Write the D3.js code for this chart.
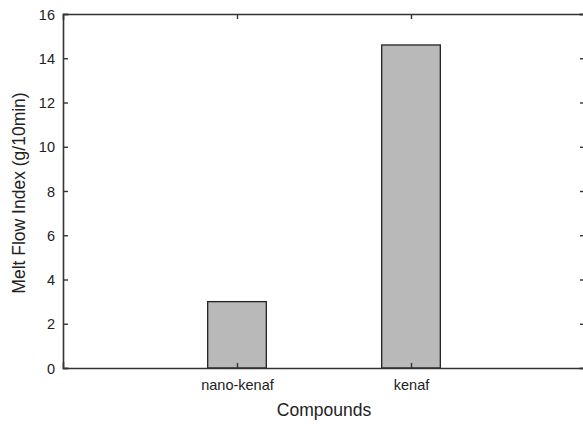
<!DOCTYPE html>
<html><head><meta charset="utf-8">
<script src="https://cdn.jsdelivr.net/npm/d3@7/dist/d3.min.js"></script>
<style>
html,body{margin:0;padding:0;background:#fff;overflow:hidden}
text{font-family:"Liberation Sans",Arial,sans-serif;fill:#222}
</style></head><body>
<svg id="c" width="583" height="424"></svg>
<script>
const categories = ["nano-kenaf", "kenaf"];
const values = [3.0, 14.6];
const yTicks = [0, 2, 4, 6, 8, 10, 12, 14, 16];
const xTitle = "Compounds";
const yTitle = "Melt Flow Index (g/10min)";

const svg = d3.select("#c");
const L = 63, R = 585, T = 14, B = 368;
const x = d3.scaleLinear().domain([0, 3]).range([L, R]);
const y = d3.scaleLinear().domain([0, 16]).range([B, T]);
const pos = categories.map((c, i) => i + 1);
const barW = 0.337;
const axisColor = "#333";

// bars
svg.selectAll("rect.bar").data(values).enter().append("rect")
  .attr("class", "bar")
  .attr("x", (d, i) => x(pos[i] - barW / 2))
  .attr("width", x(barW) - x(0))
  .attr("y", d => y(d))
  .attr("height", d => y(0) - y(d))
  .attr("fill", "#b9b9b9")
  .attr("stroke", "#222")
  .attr("stroke-width", 1.3);

// axes
const axL = d3.axisLeft(y).tickValues(yTicks).tickSize(-5).tickPadding(8).tickFormat(d3.format("d"));
const axR = d3.axisRight(y).tickValues(yTicks).tickSize(-5).tickFormat("");
const axB = d3.axisBottom(x).tickValues(pos).tickSize(-5).tickPadding(12).tickFormat((d, i) => categories[i]);
const axT = d3.axisTop(x).tickValues(pos).tickSize(-5).tickFormat("");

function style(g) {
  g.attr("font-family", '"Liberation Sans",Arial,sans-serif');
  g.select(".domain").attr("stroke", axisColor).attr("stroke-width", 1.6);
  g.selectAll(".tick line").attr("stroke", axisColor).attr("stroke-width", 1.4);
  g.selectAll(".tick text").attr("fill", "#222");
}
const gL = svg.append("g").attr("transform", `translate(${L},0)`).call(axL).call(style);
gL.attr("font-size", 14.5);
gL.selectAll(".tick text").attr("dy", "0.36em");
svg.append("g").attr("transform", `translate(${R},0)`).call(axR).call(style);
const gB = svg.append("g").attr("transform", `translate(0,${B})`).call(axB).call(style);
gB.attr("font-size", 14.5);
svg.append("g").attr("transform", `translate(0,${T})`).call(axT).call(style);
svg.selectAll(".domain").attr("stroke-linecap", "square");

// titles
svg.append("text").attr("x", (L + R) / 2).attr("y", 416).attr("text-anchor", "middle")
  .attr("font-size", 17.5).text(xTitle);
svg.append("text").attr("transform", `translate(25,193) rotate(-90)`).attr("text-anchor", "middle")
  .attr("font-size", 17.5).text(yTitle);
</script>
</body></html>
